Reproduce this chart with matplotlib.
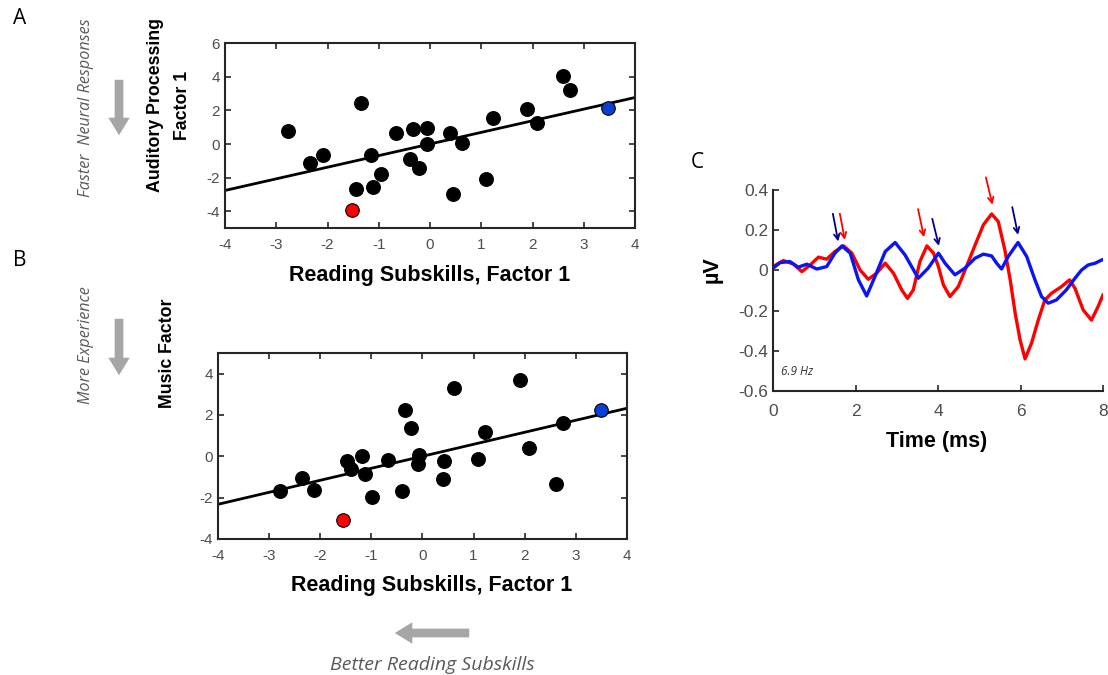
import numpy as np
import matplotlib
matplotlib.use('Agg')
import matplotlib.pyplot as plt

plt.rcParams['font.family'] = ['Liberation Sans', 'DejaVu Sans']
plt.rcParams['axes.unicode_minus'] = False

# panel A: reading subskills vs auditory processing
read_a = [-2.78, -2.34, -2.08, -1.35, -1.45, -1.15, -1.11, -0.96, -0.66, -0.39, -0.34,
          -0.21, -0.065, -0.065, 0.39, 0.44, 0.63, 1.09, 1.23, 1.89, 2.09, 2.59, 2.73]
aud_a = [0.8, -1.11, -0.62, 2.43, -2.65, -0.66, -2.55, -1.75, 0.64, -0.9, 0.9,
         -1.45, 0.98, -0.02, 0.64, -2.95, 0.08, -2.05, 1.57, 2.09, 1.27, 4.06, 3.22]
red_a = (-1.53, -3.9)
blue_a = (3.47, 2.13)

# panel B: reading subskills vs music factor
read_b = [-2.78, -2.36, -2.12, -1.47, -1.39, -1.18, -1.13, -0.98, -0.67, -0.40, -0.34,
          -0.23, -0.07, -0.08, 0.42, 0.40, 0.62, 1.09, 1.23, 1.90, 2.09, 2.62, 2.75]
music_b = [-1.69, -1.07, -1.61, -0.23, -0.63, 0.02, -0.88, -1.98, -0.18, -1.69, 2.26,
           1.36, 0.05, -0.36, -0.23, -1.12, 3.30, -0.11, 1.2, 3.67, 0.42, -1.33, 1.59]
red_b = (-1.56, -3.07)
blue_b = (3.50, 2.26)

# panel C: response waveforms
t_red = [0, 0.25, 0.49, 0.7, 0.9, 1.1, 1.3, 1.5, 1.71, 1.91, 2.11, 2.31, 2.51, 2.72, 2.92,
         3.12, 3.26, 3.4, 3.56, 3.73, 3.89, 4.01, 4.13, 4.29, 4.49, 4.69, 4.9, 5.1, 5.3,
         5.46, 5.62, 5.75, 5.87, 5.99, 6.11, 6.27, 6.43, 6.59, 6.75, 6.99, 7.19, 7.32,
         7.52, 7.72, 7.88, 8.0]
v_red = [0.019, 0.049, 0.032, -0.006, 0.027, 0.066, 0.056, 0.094, 0.122, 0.086, 0.002,
         -0.044, -0.014, 0.036, -0.014, -0.097, -0.139, -0.097, 0.044, 0.122, 0.086,
         0.019, -0.072, -0.13, -0.081, 0.019, 0.127, 0.227, 0.281, 0.243, 0.102, -0.047,
         -0.213, -0.346, -0.44, -0.36, -0.247, -0.147, -0.114, -0.081, -0.047, -0.089,
         -0.197, -0.247, -0.18, -0.122]
t_blue = [0, 0.17, 0.41, 0.61, 0.82, 1.06, 1.3, 1.5, 1.67, 1.87, 2.07, 2.27, 2.47, 2.72,
          2.96, 3.2, 3.52, 3.76, 4.01, 4.17, 4.41, 4.65, 4.9, 5.1, 5.3, 5.42, 5.54, 5.7,
          5.94, 6.15, 6.35, 6.51, 6.67, 6.87, 7.11, 7.32, 7.48, 7.64, 7.81, 7.97]
v_blue = [0.011, 0.039, 0.044, 0.016, 0.031, 0.007, 0.019, 0.086, 0.122, 0.086, -0.047,
          -0.127, -0.031, 0.094, 0.139, 0.077, -0.039, 0.011, 0.086, 0.036, -0.022, 0.011,
          0.061, 0.081, 0.072, 0.036, 0.007, 0.069, 0.139, 0.069, -0.047, -0.13, -0.163,
          -0.147, -0.097, -0.039, 0.002, 0.027, 0.036, 0.052]

# peak markers (tail x, tail y, head x, head y)
red_arrows = [(1.62, 0.282, 1.74, 0.152), (3.515, 0.305, 3.66, 0.165), (5.16, 0.463, 5.32, 0.327)]
blue_arrows = [(1.45, 0.282, 1.58, 0.144), (3.86, 0.257, 4.02, 0.122), (5.8, 0.315, 5.94, 0.177)]

RED = '#ff0000'
BLUE = '#0a3fd6'
TICK = '#4d4d4d'
GRAY = '#a6a6a6'

fig = plt.figure(figsize=(11.08, 6.75), dpi=100)


def scatter_panel(ax, x, y, red, blue, ylim, yticks):
    allx = np.array(x + [red[0], blue[0]])
    ally = np.array(y + [red[1], blue[1]])
    m, c = np.polyfit(allx, ally, 1)
    xl = np.array([-4, 4])
    ax.plot(xl, m * xl + c, color='k', lw=2, zorder=2)
    ax.scatter(x, y, s=95, color='k', edgecolor='k', zorder=3)
    ax.scatter([red[0]], [red[1]], s=95, color=RED, edgecolor='k', lw=0.8, zorder=3)
    ax.scatter([blue[0]], [blue[1]], s=95, color=BLUE, edgecolor='k', lw=0.8, zorder=3)
    ax.set_xlim(-4, 4)
    ax.set_ylim(*ylim)
    ax.set_xticks(range(-4, 5))
    ax.set_yticks(yticks)
    ax.tick_params(direction='in', top=True, right=True, length=4, width=1.2,
                   colors='#262626', labelcolor=TICK, labelsize=11)
    ax.tick_params(axis='x', pad=7)
    for s in ax.spines.values():
        s.set_linewidth(1.5)
        s.set_color('#262626')


axA = fig.add_axes([0.2031, 0.662, 0.370, 0.274])
scatter_panel(axA, read_a, aud_a, red_a, blue_a, (-5, 6), [-4, -2, 0, 2, 4, 6])
axB = fig.add_axes([0.1968, 0.2015, 0.369, 0.2756])
scatter_panel(axB, read_b, music_b, red_b, blue_b, (-4, 5), [-4, -2, 0, 2, 4])

axC = fig.add_axes([0.6977, 0.4207, 0.2978, 0.2978])
axC.plot(t_red, v_red, color=RED, lw=2.4, solid_joinstyle='round')
axC.plot(t_blue, v_blue, color='#0a14f5', lw=2.4, solid_joinstyle='round')
for x0, y0, x1, y1 in red_arrows:
    axC.annotate('', xy=(x1, y1), xytext=(x0, y0),
                 arrowprops=dict(arrowstyle='->', color=RED, lw=1.3,
                                 shrinkA=0, shrinkB=0))
for x0, y0, x1, y1 in blue_arrows:
    axC.annotate('', xy=(x1, y1), xytext=(x0, y0),
                 arrowprops=dict(arrowstyle='->', color='#00008b', lw=1.3,
                                 shrinkA=0, shrinkB=0))
axC.set_xlim(0, 8)
axC.set_ylim(-0.6, 0.4)
axC.set_xticks([0, 2, 4, 6, 8])
axC.set_yticks([-0.6, -0.4, -0.2, 0, 0.2, 0.4])
axC.set_yticklabels(['-0.6', '-0.4', '-0.2', '0', '0.2', '0.4'])
axC.spines['top'].set_visible(False)
axC.spines['right'].set_visible(False)
for s in ['left', 'bottom']:
    axC.spines[s].set_linewidth(1.5)
    axC.spines[s].set_color('#262626')
axC.tick_params(direction='in', length=4, width=1.2, colors='#262626',
                labelcolor=TICK, labelsize=12.5)
axC.tick_params(axis='x', pad=9)
axC.text(0.2, -0.52, '6.9 Hz', fontsize=8.5, style='italic', color='#333333',
         family=['Open Sans', 'DejaVu Sans'])

# axis labels placed like the original layout
lab = dict(ha='center', va='center', fontsize=15.5, fontweight='bold')
fig.text(430 / 1108, 1 - 276 / 675, 'Reading Subskills, Factor 1', **lab)
fig.text(432 / 1108, 1 - 586 / 675, 'Reading Subskills, Factor 1', **lab)
fig.text(937 / 1108, 1 - 442 / 675, 'Time (ms)', **lab)
fig.text(712 / 1108, 1 - 270 / 675, 'µV', **lab, rotation=90)
vlab = dict(ha='center', va='center', fontsize=12.8, fontweight='bold', rotation=90)
fig.text(169 / 1108, 1 - 105 / 675, 'Auditory Processing\nFactor 1', linespacing=1.75, **vlab)
fig.text(168 / 1108, 1 - 353 / 675, 'Music Factor', **vlab)

# panel letters
for letter, (px, py) in {'A': (20, 18), 'B': (20, 260), 'C': (697, 163)}.items():
    fig.text(px / 1108, 1 - py / 675, letter, ha='center', va='center', fontsize=15,
             family=['Open Sans', 'DejaVu Sans'])

# gray direction hints
ital = dict(style='italic', color='#595959', family=['Open Sans', 'DejaVu Sans'],
            ha='center', va='center')
fig.text(86 / 1108, 1 - 108 / 675, 'Faster  Neural Responses', rotation=90, fontsize=11.6, **ital)
fig.text(86 / 1108, 1 - 345 / 675, 'More Experience', rotation=90, fontsize=11.6, **ital)
fig.text(432 / 1108, 1 - 665 / 675, 'Better Reading Subskills', fontsize=14, **ital)

arr = dict(arrowstyle='simple,head_width=1.1,head_length=0.9,tail_width=0.45', color=GRAY, lw=0)
for tail, head in [((119, 77), (119, 138)), ((119, 316), (119, 378)), ((472, 633), (392, 633))]:
    fig.patches.append(matplotlib.patches.FancyArrowPatch(
        (tail[0] / 1108, 1 - tail[1] / 675), (head[0] / 1108, 1 - head[1] / 675),
        transform=fig.transFigure, mutation_scale=14, **arr))

fig.savefig('out.png', dpi=100)
